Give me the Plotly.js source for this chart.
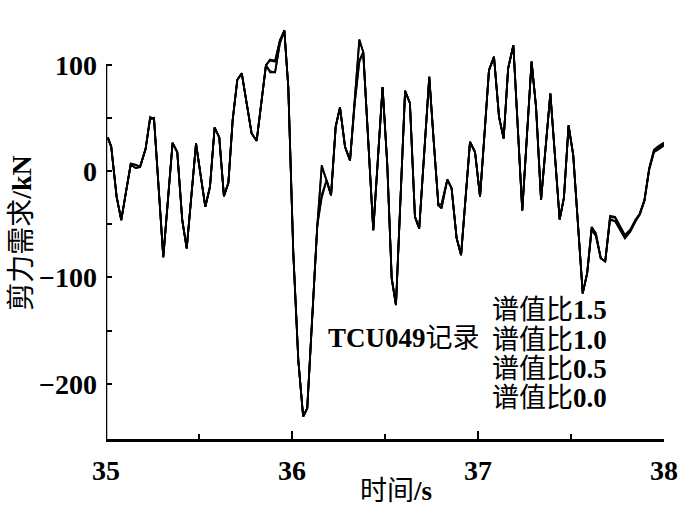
<!DOCTYPE html>
<html>
<head>
<meta charset="utf-8">
<script src="https://cdn.plot.ly/plotly-3.0.1.min.js"></script>
<style>html,body{margin:0;padding:0;background:#fff;}#chart{width:700px;height:505px;}</style>
</head>
<body>
<div id="chart"></div>
<script>
// time (s)
const time = [35.01, 35.028, 35.057, 35.082, 35.108, 35.133, 35.16, 35.183, 35.213, 35.237, 35.258, 35.283, 35.308, 35.333, 35.358, 35.383, 35.41, 35.434, 35.459, 35.484,
  35.509, 35.534, 35.559, 35.584, 35.609, 35.634, 35.658, 35.681, 35.706, 35.73, 35.757, 35.783, 35.81, 35.835, 35.86, 35.882, 35.909, 35.935, 35.959, 35.98,
  36.007, 36.034, 36.06, 36.082, 36.11, 36.136, 36.16, 36.186, 36.21, 36.235, 36.258, 36.285, 36.312, 36.337, 36.362, 36.383, 36.41, 36.437, 36.462, 36.487,
  36.512, 36.536, 36.559, 36.584, 36.608, 36.634, 36.661, 36.684, 36.71, 36.738, 36.762, 36.787, 36.804, 36.835, 36.858, 36.885, 36.909, 36.933, 36.957, 36.984,
  37.011, 37.035, 37.059, 37.086, 37.113, 37.138, 37.162, 37.19, 37.214, 37.238, 37.263, 37.288, 37.312, 37.339, 37.364, 37.389, 37.414, 37.439, 37.462, 37.487,
  37.512, 37.537, 37.563, 37.587, 37.611, 37.634, 37.66, 37.684, 37.71, 37.737, 37.763, 37.79, 37.818, 37.846, 37.87, 37.895, 37.92, 37.946, 37.965, 38.0];

// shear demand (kN) for spectral ratio 1.5 / 1.0 / 0.5 / 0.0
const ratio15 = [32, 23.5, -24, -46, -19, 7, 6, 4, 21, 50, 49.5, -20, -81, -27, 26.6, 18, -46, -72.7, -23, 26,
  -4, -33.6, -14.7, 41, 31.7, -23.5, -11, 48, 86, 92, 63, 35.5, 28.5, 64, 99.7, 105, 104, 123, 132.6, 79,
  -77, -178, -231, -223, -133, -51, 5.6, -8.5, -22.6, 42, 60, 23, 10, 67, 124, 112, 28, -55.5, 12, 79,
  7, -101, -126, -25, 75.5, 64, -43, -54, 17, 88.7, 28, -32, -35, -8, -16, -63, -79, -26, 27.5, 18,
  -24, 35, 95, 107.5, 51, 30.7, 96.6, 118.5, 40, -37, 33, 103, 60.5, -27, 23, 73, 14, -45.5, -25, 43,
  15, -50, -115, -96, -52.4, -58.6, -82, -85, -42, -43, -52, -60, -55, -46, -40, -27, 2.5, 20, 23, 27];
const ratio10 = [31, 23, -24, -46, -19, 7, 6, 4, 21, 51, 49, -20, -81, -27, 26.6, 18, -46, -72.7, -23, 26,
  -4, -33.6, -14.7, 41, 31.7, -23.5, -11, 48, 86, 92, 63, 35.5, 28.5, 64, 99.7, 104, 103, 123, 132, 79,
  -77, -178, -231, -223, -133, -51, 4, -8.5, -22.6, 42, 60, 23, 10, 67, 123, 112, 28, -55.5, 12, 79,
  7, -101, -126, -25, 75.5, 64, -43, -54, 17, 88.7, 28, -32, -35, -8, -16, -63, -79, -26, 27.5, 18,
  -24, 35, 95, 107.5, 51, 30.7, 96.6, 118.5, 40, -37, 33, 103, 60.5, -27, 23, 73, 14, -45.5, -25, 43,
  15, -50, -115, -96, -53, -59, -82, -85, -43, -44, -53, -61, -56, -46, -40, -27, 2, 20, 22, 26];
const ratio05 = [31, 23, -24, -46, -19, 6, 3, 4, 21, 49, 50, -20, -81, -27, 26.6, 18, -46, -72.7, -23, 26,
  -4, -33.6, -14.7, 41, 31.7, -23.5, -11, 48, 86, 92, 63, 35.5, 28.5, 64, 99.7, 94, 93, 121, 132, 79,
  -77, -178, -231, -223, -133, -51, -22, -8.5, -22.6, 42, 60, 23, 10, 64, 104, 112, 28, -55.5, 12, 79,
  7, -101, -126, -25, 75.5, 64, -43, -54, 17, 88.7, 28, -32, -31, -8, -16, -63, -79, -26, 27.5, 18,
  -24, 35, 95, 107.5, 51, 30.7, 96.6, 118.5, 40, -37, 33, 103, 60.5, -27, 23, 73, 14, -45.5, -25, 43,
  15, -50, -115, -96, -55, -61, -82, -85, -45, -47, -55, -63, -57, -47, -40, -28, 1, 18, 20, 25];
const ratio00 = [31, 23, -24, -46, -19, 6, 3, 4, 21, 49, 50, -20, -81, -27, 26.6, 18, -46, -72.7, -23, 26,
  -4, -33.6, -14.7, 41, 31.7, -23.5, -11, 48, 86, 92, 63, 35.5, 28.5, 64, 99.7, 93, 92.9, 120, 132, 79,
  -77, -178, -231, -223, -133, -51, -25, -8.5, -22.6, 42, 60, 23, 10, 63, 102.8, 112, 28, -55.5, 12, 79,
  7, -101, -126, -25, 75.5, 64, -43, -54, 17, 88.7, 28, -32, -31, -8, -16, -63, -79, -26, 27.5, 18,
  -24, 35, 95, 107.5, 51, 30.7, 96.6, 118.5, 40, -37, 33, 103, 60.5, -27, 23, 73, 14, -45.5, -25, 43,
  15, -50, -115, -96, -55, -61, -82, -85, -46, -47, -55, -63, -57, -47, -41, -28, 1, 18, 20, 24];

const seriesPrefix = '谱值比';
const seriesRatios = ['1.5', '1.0', '0.5', '0.0'];
const seriesValues = [ratio15, ratio10, ratio05, ratio00];
const recordLabel = ['TCU049', '记录'];
const xTickVals = [35, 36, 37, 38];
const yTickVals = [-200, -100, 0, 100];
const yTickText = ['−200', '−100', '0', '100'];

const serif = '"Liberation Serif", "Times New Roman", "Noto Sans CJK SC", serif';

const traces = seriesValues.map((v, i) => ({
  type: 'scatter', mode: 'lines', x: time, y: v, name: seriesPrefix + seriesRatios[i],
  line: {color: '#000', width: 1.8}, showlegend: false, hoverinfo: 'skip'
}));

const annotations = [{
  xref: 'x', yref: 'y', x: 36.6, y: -157, text: '<b>' + recordLabel[0] + '</b>' + recordLabel[1],
  showarrow: false, xanchor: 'center', yanchor: 'middle',
  font: {family: serif, size: 27, color: '#000'}
}];
const legendY = [-131, -159, -186, -213];
seriesRatios.forEach((r, i) => annotations.push({
  xref: 'x', yref: 'y', x: 37.065, y: legendY[i], text: seriesPrefix + '<b>' + r + '</b>',
  showarrow: false, xanchor: 'left', yanchor: 'middle',
  font: {family: serif, size: 27, color: '#000'}
}));
// axis titles
annotations.push({
  xref: 'paper', yref: 'paper', x: -0.152, y: 0.47, text: '剪力需求<b>/kN</b>', textangle: -90,
  showarrow: false, xanchor: 'center', yanchor: 'middle',
  font: {family: serif, size: 28, color: '#000'}
});
annotations.push({
  xref: 'paper', yref: 'paper', x: 0.52, y: -0.118, text: '时间<b>/s</b>',
  showarrow: false, xanchor: 'center', yanchor: 'middle',
  font: {family: serif, size: 27, color: '#000'}
});

const layout = {
  width: 700, height: 505,
  margin: {l: 106, r: 36, t: 0, b: 66, pad: 0},
  paper_bgcolor: '#fff', plot_bgcolor: '#fff',
  font: {family: serif, color: '#000', size: 27},
  xaxis: {
    range: [35, 38], tickmode: 'array', tickvals: xTickVals, ticktext: xTickVals.map(String),
    ticks: 'inside', ticklen: 8, tickwidth: 2, tickcolor: '#000',
    minor: {tickmode: 'array', tickvals: [35.5, 36.5, 37.5], ticks: 'inside', ticklen: 5, tickwidth: 2, tickcolor: '#000'},
    showline: true, linewidth: 2.5, linecolor: '#000', mirror: false,
    showgrid: false, zeroline: false, ticklabelstandoff: 5,
    tickfont: {family: serif, size: 28, color: '#000', weight: 'bold'}
  },
  yaxis: {
    range: [-252, 161], tickmode: 'array', tickvals: yTickVals, ticktext: yTickText,
    ticks: 'inside', ticklen: 6, tickwidth: 2, tickcolor: '#000',
    minor: {tickmode: 'array', tickvals: [-150, -50, 50], ticks: 'inside', ticklen: 6, tickwidth: 2, tickcolor: '#000'},
    showline: false, showgrid: false, zeroline: false, ticklabelstandoff: 8,
    tickfont: {family: serif, size: 28, color: '#000', weight: 'bold'}
  },
  shapes: [{type: 'line', xref: 'x', yref: 'y', x0: 35, x1: 35, y0: -252, y1: 100, line: {color: '#000', width: 2.5}}],
  annotations: annotations
};

Plotly.newPlot('chart', traces, layout, {displayModeBar: false, staticPlot: true});
</script>
</body>
</html>
